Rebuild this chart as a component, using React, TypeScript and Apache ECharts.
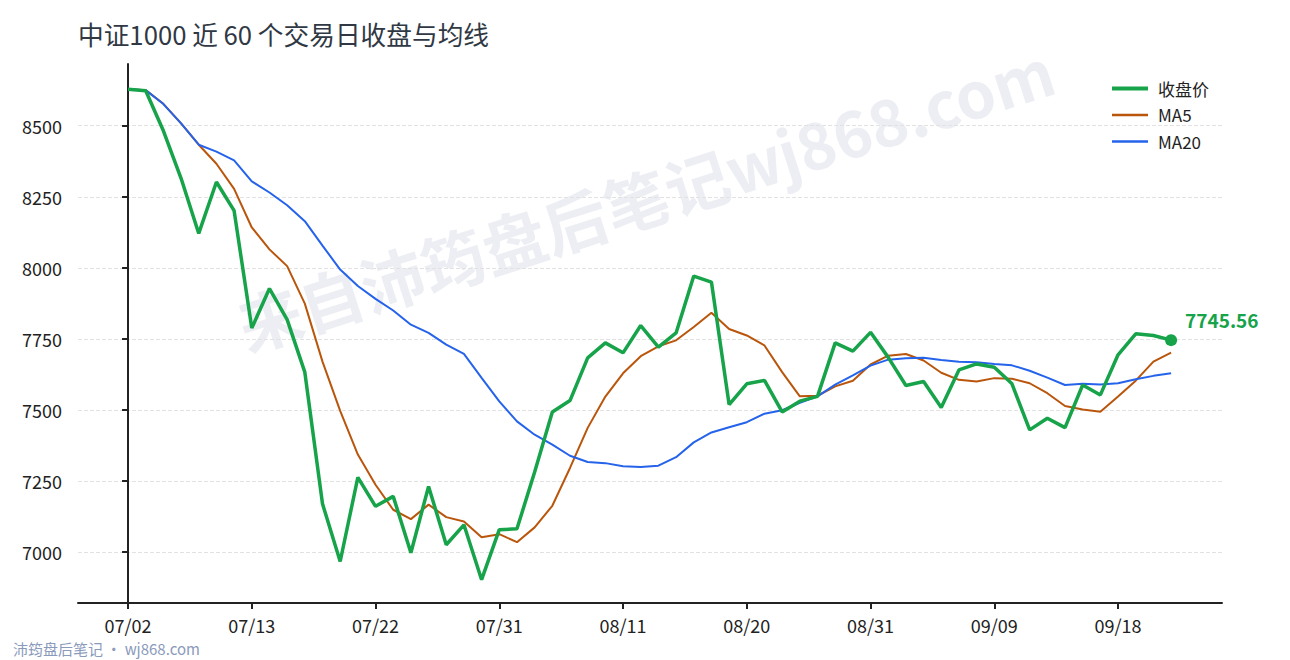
import { useEffect, useRef } from 'react';
import * as echarts from 'echarts';

// ---------------------------------------------------------------------------
// Data
// ---------------------------------------------------------------------------

const DATES = [
  '07/02', '07/03', '07/06', '07/07', '07/08', '07/09', '07/10',
  '07/13', '07/14', '07/15', '07/16', '07/17', '07/20', '07/21',
  '07/22', '07/23', '07/24', '07/27', '07/28', '07/29', '07/30',
  '07/31', '08/03', '08/04', '08/05', '08/06', '08/07', '08/10',
  '08/11', '08/12', '08/13', '08/14', '08/17', '08/18', '08/19',
  '08/20', '08/21', '08/24', '08/25', '08/26', '08/27', '08/28',
  '08/31', '09/01', '09/02', '09/03', '09/04', '09/07', '09/08',
  '09/09', '09/10', '09/11', '09/14', '09/15', '09/16', '09/17',
  '09/18', '09/21', '09/22', '09/23',
];

const CLOSE = [
  8628, 8623, 8482, 8315, 8121, 8302, 8201, 7788, 7927, 7818,
  7633, 7170, 6967, 7263, 7161, 7196, 6998, 7231, 7026, 7096,
  6903, 7079, 7082, 7282, 7493, 7533, 7683, 7736, 7701, 7797,
  7721, 7771, 7971, 7950, 7519, 7592, 7604, 7493, 7531, 7548,
  7736, 7707, 7773, 7685, 7586, 7600, 7509, 7641, 7662, 7650,
  7592, 7430, 7471, 7438, 7588, 7553, 7694, 7768, 7762, 7745.56,
];

const MA5 = [
  8628, 8625, 8577, 8508, 8433, 8366, 8278, 8142, 8065, 8006,
  7874, 7670, 7497, 7343, 7237, 7149, 7116, 7167, 7123, 7108,
  7052, 7063, 7035, 7087, 7163, 7296, 7437, 7547, 7629, 7689,
  7724, 7745, 7792, 7842, 7785, 7762, 7727, 7633, 7548, 7550,
  7583, 7603, 7660, 7691, 7697, 7674, 7631, 7606, 7600, 7612,
  7610, 7594, 7559, 7514, 7502, 7494, 7547, 7603, 7670, 7702,
];

const MA20 = [
  8628, 8625, 8576, 8508, 8433, 8409, 8378, 8304, 8265, 8220,
  8164, 8078, 7994, 7936, 7891, 7850, 7800, 7771, 7730, 7697,
  7613, 7530, 7460, 7413, 7378, 7339, 7317, 7313, 7302, 7299,
  7304, 7334, 7386, 7421, 7439, 7457, 7487, 7499, 7525, 7548,
  7589, 7622, 7656, 7677, 7682, 7684, 7676, 7670, 7668, 7662,
  7657, 7638, 7614, 7588, 7592, 7590, 7594, 7608, 7620, 7629,
];

const X_TICKS = [0, 7, 14, 21, 28, 35, 42, 49, 56];
const Y_TICKS = [7000, 7250, 7500, 7750, 8000, 8250, 8500];

const TITLE = '中证1000 近 60 个交易日收盘与均线';
const WATERMARK = '来自沛筠盘后笔记wj868.com';
const FOOTER = '沛筠盘后笔记 · wj868.com';

// ---------------------------------------------------------------------------
// Styling
// ---------------------------------------------------------------------------

const FONT = '"Noto Sans CJK SC", "Noto Sans", sans-serif';
const GREEN = '#16a34a';
const ORANGE = '#b9560c';
const BLUE = '#2563eb';
const AXIS = '#222222';

function pairs(values: number[]): number[][] {
  return values.map((v, i) => [i, v]);
}

function buildOption(): echarts.EChartsOption {
  const last = CLOSE.length - 1;
  return {
    animation: false,
    textStyle: { fontFamily: FONT },
    title: {
      text: TITLE,
      left: 73,
      top: 16,
      textStyle: { fontSize: 25.7, fontWeight: 'normal', color: '#303844', fontFamily: FONT },
    },
    legend: {
      data: [
        { name: '收盘价', lineStyle: { width: 4 } },
        { name: 'MA5', lineStyle: { width: 2.5 } },
        { name: 'MA20', lineStyle: { width: 2.5 } },
      ],
      orient: 'vertical',
      left: 1105,
      top: 75,
      itemWidth: 36,
      itemHeight: 14,
      itemGap: 9.5,
      itemStyle: { opacity: 0 },
      textStyle: { fontSize: 17, color: '#222', fontFamily: FONT, padding: [0, 0, 0, 5] },
    },
    grid: { left: 78, right: 68, top: 64, bottom: 57, containLabel: false },
    xAxis: {
      type: 'value',
      min: -2.83,
      max: 61.88,
      axisLine: { show: true, lineStyle: { color: AXIS, width: 2 } },
      axisTick: { show: true, length: 6, lineStyle: { color: AXIS, width: 2 }, customValues: X_TICKS },
      axisLabel: {
        customValues: X_TICKS,
        formatter: (v: number) => DATES[Math.round(v)] ?? '',
        fontSize: 18,
        color: '#222',
        margin: 13,
        fontFamily: FONT,
      },
      splitLine: { show: false },
    },
    yAxis: {
      type: 'value',
      min: 6821,
      max: 8717,
      axisLine: { show: true, lineStyle: { color: AXIS, width: 2 } },
      axisTick: { show: true, length: 6, lineStyle: { color: AXIS, width: 2 }, customValues: Y_TICKS },
      axisLabel: {
        customValues: Y_TICKS,
        formatter: (v: number) => String(v),
        fontSize: 18,
        color: '#222',
        margin: 16,
        fontFamily: FONT,
      },
      splitLine: { show: true, lineStyle: { color: '#e2e2e2', type: 'dashed', width: 1 } },
    },
    graphic: [
      {
        type: 'text',
        x: 645,
        y: 196,
        rotation: 0.31,
        z: -10,
        silent: true,
        style: {
          text: WATERMARK,
          font: `bold 64px ${FONT}`,
          fill: 'rgba(110,120,160,0.13)',
          align: 'center',
          verticalAlign: 'middle',
        },
      },
      {
        type: 'text',
        left: 13,
        top: 641,
        silent: true,
        style: {
          text: FOOTER,
          font: `15px ${FONT}`,
          fill: '#8a9abb',
        },
      },
    ],
    series: [
      {
        name: 'MA5',
        type: 'line',
        data: pairs(MA5),
        symbol: 'none',
        z: 2,
        lineStyle: { color: ORANGE, width: 2 },
        itemStyle: { color: ORANGE },
      },
      {
        name: 'MA20',
        type: 'line',
        data: pairs(MA20),
        symbol: 'none',
        z: 3,
        lineStyle: { color: BLUE, width: 2 },
        itemStyle: { color: BLUE },
      },
      {
        name: '收盘价',
        type: 'line',
        data: pairs(CLOSE),
        symbol: 'none',
        z: 4,
        lineStyle: { color: GREEN, width: 3.5 },
        itemStyle: { color: GREEN },
      },
      {
        name: 'last',
        type: 'scatter',
        data: [[last, CLOSE[last]]],
        symbol: 'circle',
        symbolSize: 12,
        z: 5,
        itemStyle: { color: GREEN, opacity: 1 },
        label: {
          show: true,
          position: 'right',
          offset: [3, -21],
          formatter: () => CLOSE[last].toFixed(2),
          color: GREEN,
          fontSize: 19,
          fontWeight: 'bold',
          fontFamily: FONT,
        },
      },
    ],
  };
}

// ---------------------------------------------------------------------------
// Component
// ---------------------------------------------------------------------------

export default function App() {
  const containerRef = useRef<HTMLDivElement | null>(null);

  useEffect(() => {
    if (!containerRef.current) return;
    const chart = echarts.init(containerRef.current, undefined, { renderer: 'svg' });
    chart.setOption(buildOption());
    return () => {
      chart.dispose();
    };
  }, []);

  return (
    <div
      ref={containerRef}
      style={{ position: 'fixed', left: 0, top: 0, width: 1290, height: 660, background: '#fff' }}
    />
  );
}
